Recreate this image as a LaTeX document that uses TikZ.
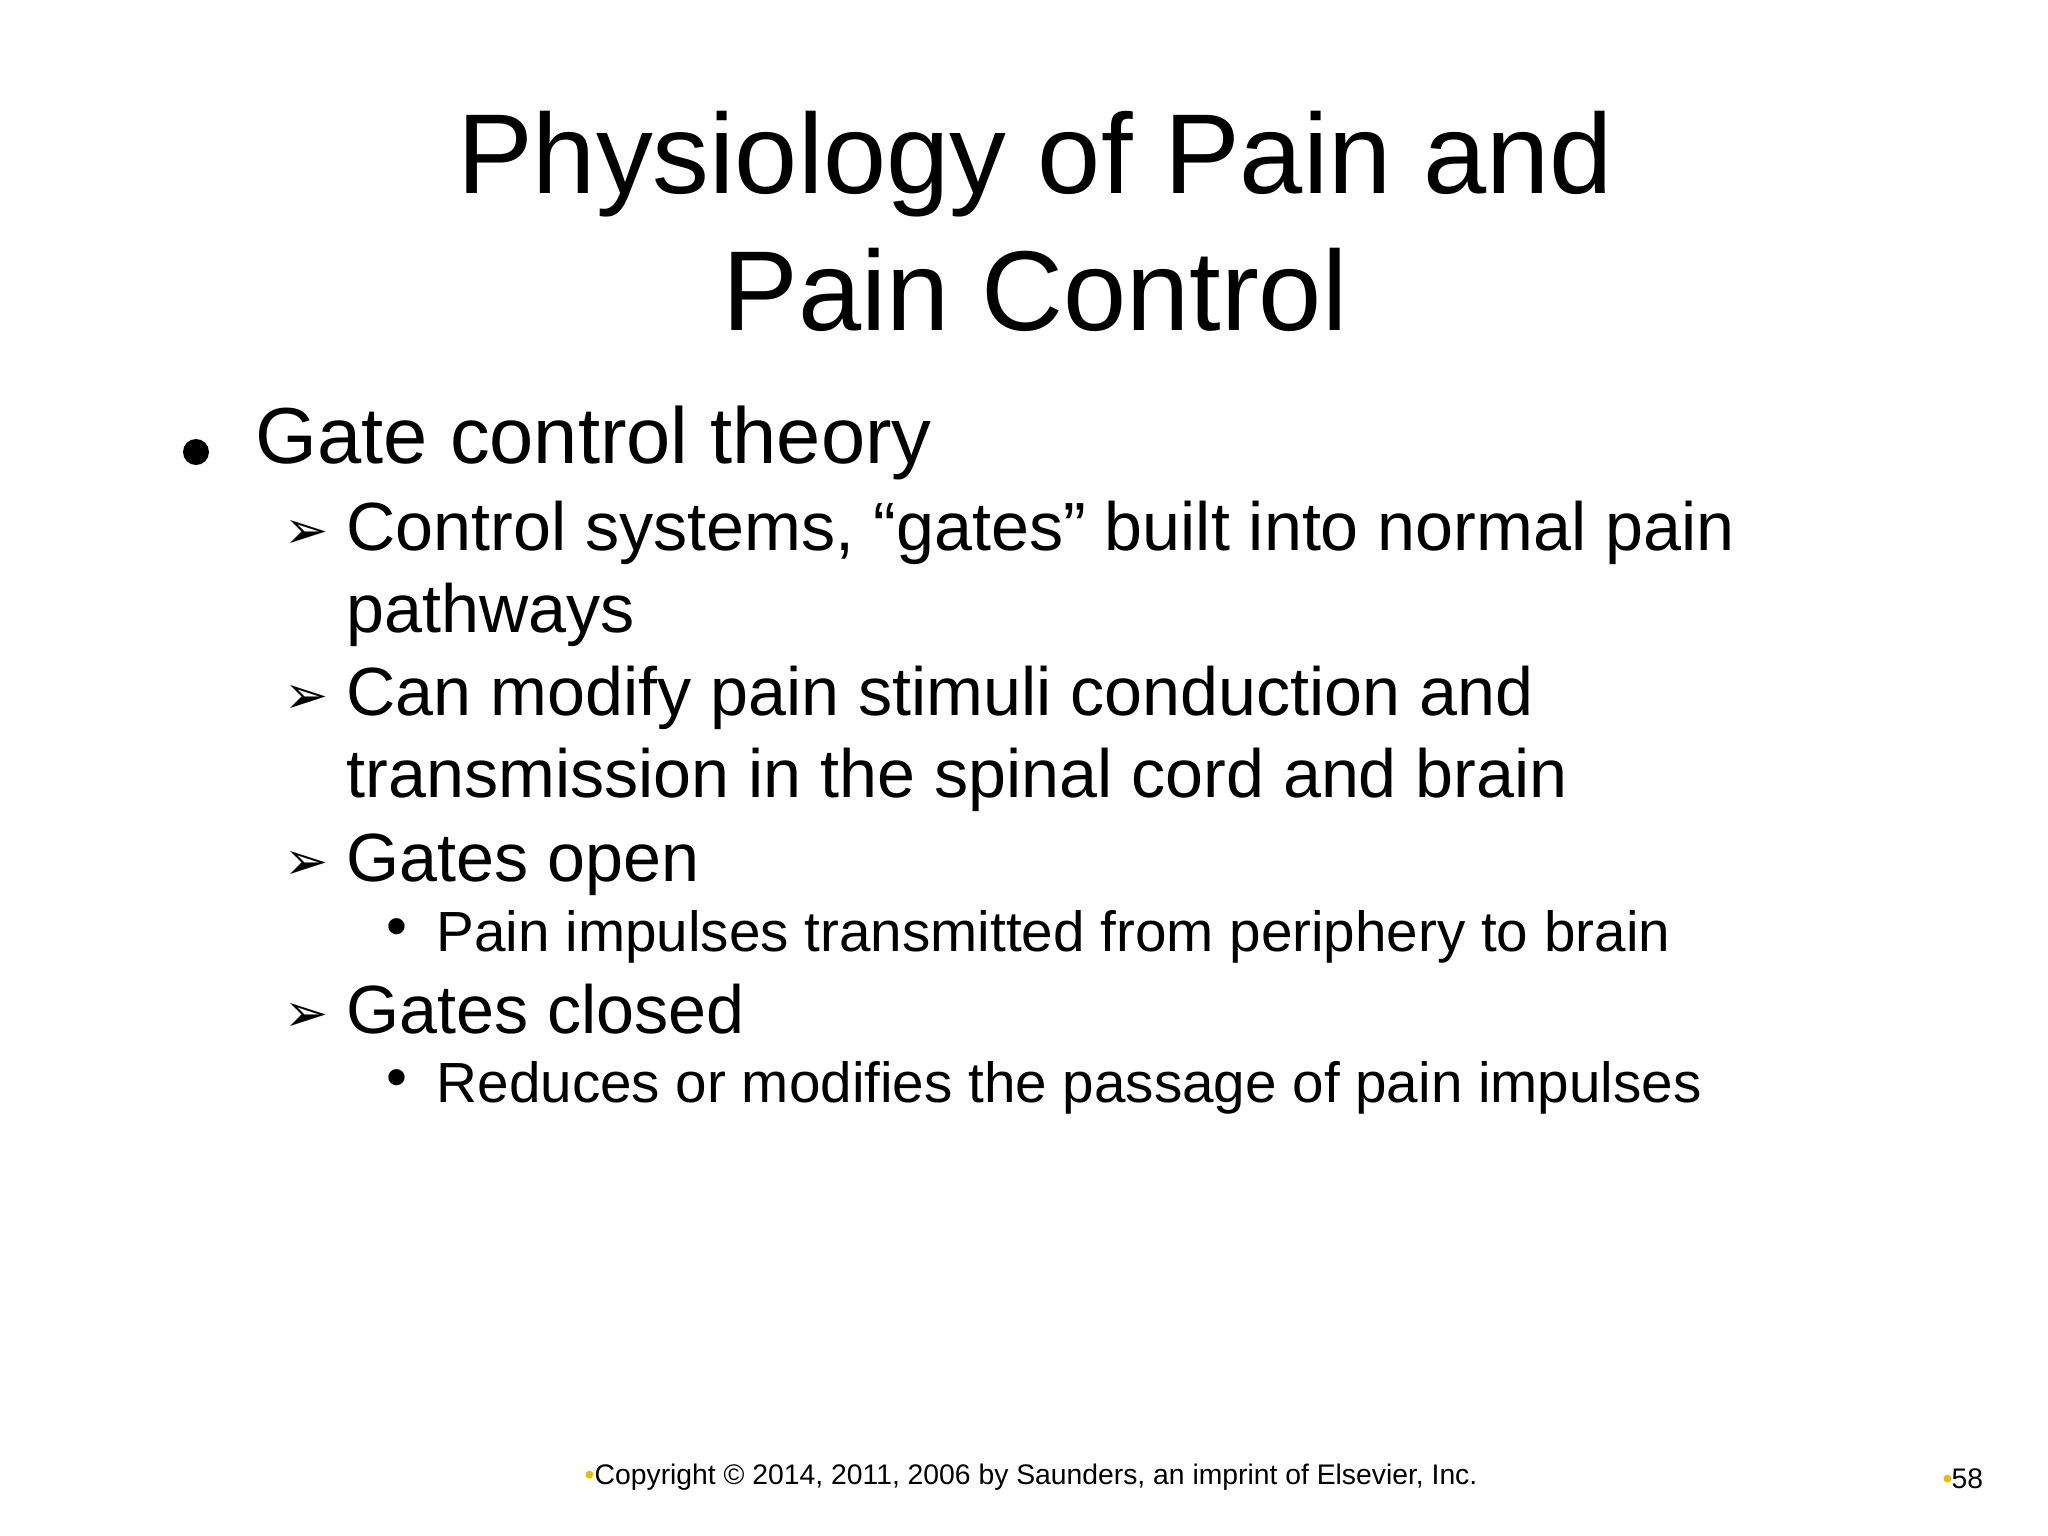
\documentclass[tikz,border=0pt]{standalone}
\usepackage{fontspec}
\setmainfont{Liberation Sans}
\newfontfamily\djv{DejaVu Sans}
\definecolor{gold}{RGB}{230,190,0}
\begin{document}
\begin{tikzpicture}[x=0.01cm,y=-0.01cm,
  tl/.style={anchor=base,font=\fontsize{32.3}{38}\selectfont},
  l1/.style={anchor=base west,inner sep=0pt,font=\fontsize{22.6}{28}\selectfont},
  l2/.style={anchor=base west,inner sep=0pt,font=\fontsize{19.4}{24}\selectfont},
  l3/.style={anchor=base west,inner sep=0pt,font=\fontsize{16.1}{20}\selectfont},
  mk/.style={anchor=base west,inner sep=0pt,font=\djv\fontsize{15}{18}\selectfont},
  dt/.style={anchor=base west,inner sep=0pt,font=\fontsize{17}{20}\selectfont},
  ft/.style={anchor=base west,inner sep=0pt,font=\fontsize{8.05}{10}\selectfont}]
\useasboundingbox[fill=white] (0,0) rectangle (2048,1536);
\node[tl] (t1) at (1035,193) {Physiology of Pain and};
\node[tl] (t2) at (1035,330) {Pain Control};
\fill (196,452) circle (13) coordinate (b1);
\node[l1] (a) at (255,463) {Gate control theory};
\node[mk] (m1) at (284,548) {➢};
\node[l2] (s1) at (346,550) {Control systems, “gates” built into normal pain};
\node[l2] (s1b) at (346,632) {pathways};
\node[mk] (m2) at (284,713) {➢};
\node[l2] (s2) at (346,715) {Can modify pain stimuli conduction and};
\node[l2] (s2b) at (346,797) {transmission in the spinal cord and brain};
\node[mk] (m3) at (284,879) {➢};
\node[l2] (s3) at (346,881) {Gates open};
\node[dt] (d1) at (386,946) {•};
\node[l3] (s3a) at (436,951) {Pain impulses transmitted from periphery to brain};
\node[mk] (m4) at (284,1031) {➢};
\node[l2] (s4) at (346,1033) {Gates closed};
\node[dt] (d2) at (386,1097) {•};
\node[l3] (s4a) at (436,1102) {Reduces or modifies the passage of pain impulses};
\node[ft,text=gold] (f0) at (584,1484) {•};
\node[ft] (f1) at (594,1484) {Copyright © 2014, 2011, 2006 by Saunders, an imprint of Elsevier, Inc.};
\node[ft,text=gold] (p0) at (1942,1488) {•};
\node[ft] (p1) at (1951,1488) {58};
\end{tikzpicture}
\end{document}
